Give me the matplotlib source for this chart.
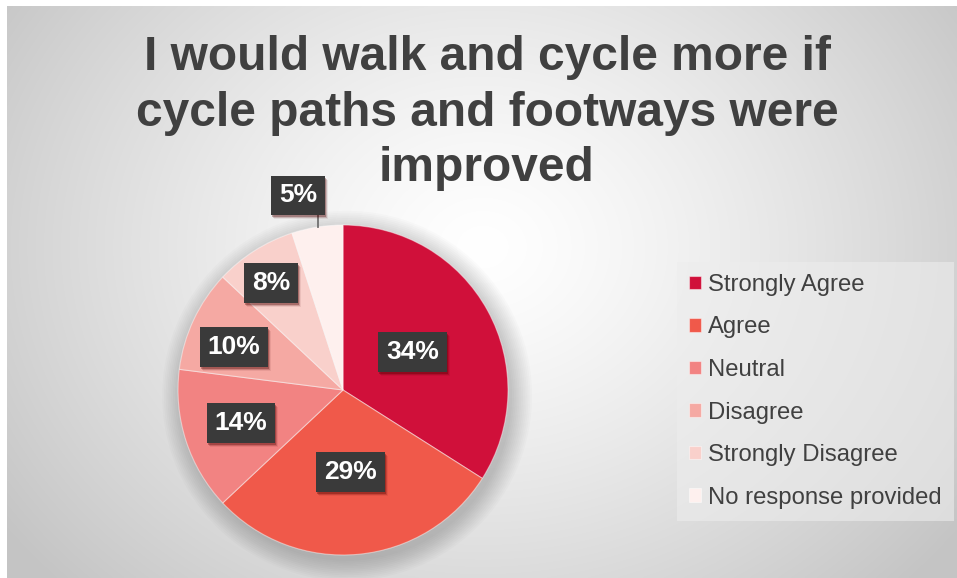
import numpy as np
import matplotlib
matplotlib.use("Agg")
import matplotlib.pyplot as plt
from matplotlib.patches import Rectangle

categories = ["Strongly Agree", "Agree", "Neutral", "Disagree",
              "Strongly Disagree", "No response provided"]
values = [34, 29, 14, 10, 8, 5]
labels = ["34%", "29%", "14%", "10%", "8%", "5%"]
title_lines = ["I would walk and cycle more if", "cycle paths and footways were", "improved"]

colors = ["#D0103A", "#F0594A", "#F28382", "#F5A9A3", "#F9D0CB", "#FEF0EE"]
label_r = [0.48, 0.50, 0.65, 0.71, 0.78, 1.21]
label_ang_shift = [0, 0, 0, 3.5, 1.5, 4]

W, H = 957, 578
fig = plt.figure(figsize=(W / 100, H / 100), dpi=100)
fig.patch.set_facecolor("white")

# background radial gradient
bg = fig.add_axes([7 / W, 0, 1 - 7 / W, 1 - 6 / H])
bg.set_axis_off()
ny, nx = 300, 500
yy, xx = np.mgrid[0:ny, 0:nx]
cx, cy = 0.50 * nx, 0.42 * ny
r = np.sqrt(((xx - cx) / (nx * 0.62)) ** 2 + ((yy - cy) / (ny * 0.85)) ** 2)
val = 1.0 - 0.23 * np.clip(r, 0, 1) ** 1.3
img = np.dstack([val, val, val])
bg.imshow(img, extent=[0, 1, 0, 1], aspect="auto", origin="upper", interpolation="bilinear")
bg.set_xlim(0, 1)
bg.set_ylim(0, 1)

# pie axes
pcx, pcy, pr = 343, 390, 165
ax = fig.add_axes([(pcx - pr) / W, (H - pcy - pr) / H, 2 * pr / W, 2 * pr / H])
ax.set_axis_off()

# soft shadow
for k in range(12):
    c = plt.Circle((0.025, -0.035), 1.0 + 0.011 * k, color="black", alpha=0.016, zorder=0,
                   lw=0, clip_on=False)
    ax.add_patch(c)

wedges, _ = ax.pie(values, colors=colors, startangle=90, counterclock=False,
                   radius=1.0, wedgeprops=dict(linewidth=0.8, edgecolor=(1, 1, 1, 0.45)))
for w in wedges:
    w.set_zorder(2)
    w.set_clip_on(False)
ax.set_xlim(-1, 1)
ax.set_ylim(-1, 1)
ax.set_aspect("equal")

total = float(sum(values))
cum = 0.0
label_texts = []
for i, (v, lab) in enumerate(zip(values, labels)):
    mid = 90 - (cum + v / 2) / total * 360 + label_ang_shift[i]
    cum += v
    x = label_r[i] * np.cos(np.radians(mid))
    y = label_r[i] * np.sin(np.radians(mid))
    if i == 5:
        ax.plot([x + 0.12, x + 0.12], [y - 0.10, 0.985], color="#707070", lw=1.3, zorder=3,
                clip_on=False)
    t = ax.text(x, y, lab, ha="center", va="center", fontsize=19, fontweight="bold",
                family="Liberation Sans", color="white",
                bbox=dict(boxstyle="square,pad=0.3", fc="#3A3A3A", ec="none"), zorder=5)
    label_texts.append(t)

# title, one text per line
for j, line in enumerate(title_lines):
    fig.text(487 / W, 1 - (57 + 56 * j) / H, line,
             ha="center", va="center", fontsize=34.5, fontweight="bold",
             family="Liberation Sans", color="#404040")

# legend
leg = fig.legend(wedges, categories, loc="upper left",
                 bbox_to_anchor=(677 / W, 1 - 262 / H), borderaxespad=0,
                 prop=dict(family="Liberation Sans", size=17.2),
                 handlelength=0.5, handleheight=0.5, handletextpad=0.3,
                 labelspacing=0.86, borderpad=0.5, frameon=True, fancybox=False)
leg.get_frame().set_facecolor("#ededed")
leg.get_frame().set_alpha(0.6)
leg.get_frame().set_edgecolor("none")
for t in leg.get_texts():
    t.set_color("#404040")

# drop shadows for the label boxes (in data coordinates of the pie axes)
fig.canvas.draw()
inv = ax.transData.inverted()
for t in label_texts:
    bb = t.get_bbox_patch().get_window_extent()
    for k, a in enumerate([0.30, 0.18, 0.08]):
        (x0, y0) = inv.transform((bb.x0 + 1 + k, bb.y0 - 2 - k))
        (x1, y1) = inv.transform((bb.x1 + 1 + k, bb.y1 - 2 - k))
        sh = Rectangle((x0, y0), x1 - x0, y1 - y0, fc=(0.3, 0.0, 0.0, a), ec="none",
                       zorder=4, clip_on=False)
        ax.add_patch(sh)

fig.savefig("out.png", dpi=100)
